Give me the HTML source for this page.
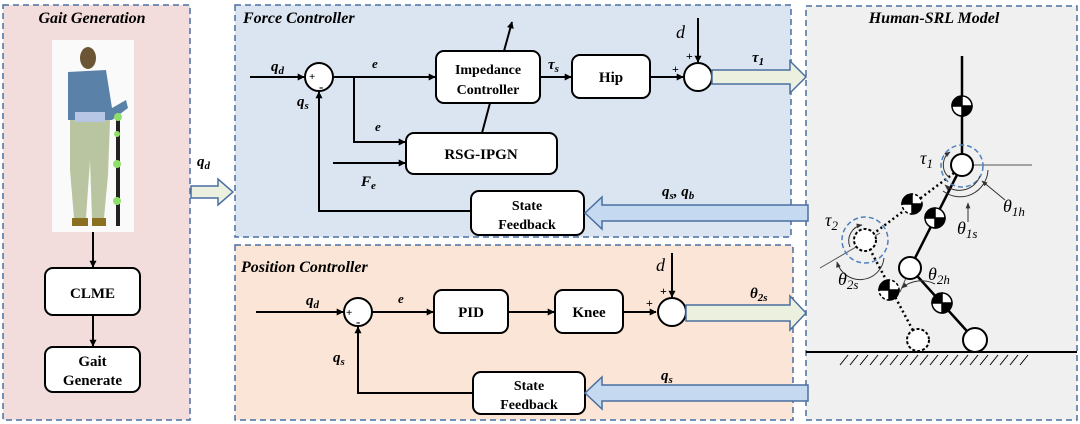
<!DOCTYPE html>
<html><head><meta charset="utf-8"><style>
html,body{margin:0;padding:0;background:#fff}
svg{display:block}
text{font-family:"Liberation Serif",serif;font-weight:bold}
.it{font-style:italic}
.m{font-style:italic;font-weight:normal}
</style></head><body>
<svg width="1080" height="424" viewBox="0 0 1080 424" xmlns="http://www.w3.org/2000/svg">
<defs>
<marker id="a" viewBox="0 0 10 10" refX="9" refY="5" markerWidth="7" markerHeight="7" orient="auto" markerUnits="userSpaceOnUse"><path d="M0,0 L10,5 L0,10 z" fill="#000"/></marker>
<marker id="s" viewBox="0 0 10 10" refX="9" refY="5" markerWidth="6" markerHeight="6" orient="auto" markerUnits="userSpaceOnUse"><path d="M0,1 L10,5 L0,9 z" fill="#333"/></marker>
</defs>
<rect x="3" y="5" width="187" height="415" fill="#f2dcdc" stroke="#4a6fa0" stroke-width="1.5" stroke-dasharray="6,4"/>
<rect x="235" y="5" width="556" height="232" fill="#dbe5f1" stroke="#4a6fa0" stroke-width="1.5" stroke-dasharray="6,4"/>
<rect x="235" y="245" width="558" height="175" fill="#fbe5d6" stroke="#4a6fa0" stroke-width="1.5" stroke-dasharray="6,4"/>
<rect x="806" y="6" width="271" height="414" fill="#f0f0f0" stroke="#4a6fa0" stroke-width="1.5" stroke-dasharray="6,4"/>

<text x="92" y="23" font-size="16" text-anchor="middle" class="it">Gait Generation</text>
<text x="243" y="23" font-size="16" class="it">Force Controller</text>
<text x="241" y="272" font-size="16" class="it">Position Controller</text>
<text x="934" y="23" font-size="16" text-anchor="middle" class="it">Human-SRL Model</text>

<rect x="52" y="40" width="82" height="192" fill="#fafafa"/>
<path d="M70,120 L110,120 L108,175 L104,218 L92,218 L90,160 L86,218 L74,218 L70,170 Z" fill="#b9c4a0"/>
<path d="M68,72 L106,70 L112,108 L126,100 L128,108 L112,120 L68,120 Z" fill="#5a82a8"/>
<rect x="75" y="112" width="30" height="10" fill="#b8c6e6"/>
<ellipse cx="88" cy="58" rx="8" ry="11" fill="#6b5535"/>
<rect x="72" y="218" width="16" height="8" fill="#8a7020"/><rect x="92" y="218" width="14" height="8" fill="#8a7020"/>
<rect x="116" y="115" width="4" height="111" fill="#222"/>
<circle cx="118" cy="117" r="4" fill="#8ee06a"/><circle cx="117" cy="134" r="3" fill="#8ee06a"/><circle cx="117" cy="164" r="4" fill="#8ee06a"/><circle cx="117" cy="201" r="4" fill="#8ee06a"/>

<g stroke="#000" stroke-width="2" fill="none">
<line x1="93" y1="232" x2="93" y2="267" marker-end="url(#a)"/>
<line x1="93" y1="315" x2="93" y2="346" marker-end="url(#a)"/>
</g>
<rect x="45" y="268" width="95" height="47" rx="8" fill="#fff" stroke="#000" stroke-width="2"/>
<text x="92.5" y="298" font-size="15" text-anchor="middle">CLME</text>
<rect x="45" y="347" width="95" height="45" rx="8" fill="#fff" stroke="#000" stroke-width="2"/>
<text x="92.5" y="366" font-size="15" text-anchor="middle">Gait</text>
<text x="92.5" y="385" font-size="15" text-anchor="middle">Generate</text>

<path d="M191,186 L218,186 L218,179 L233,192 L218,205 L218,198 L191,198 Z" fill="#ebf1de" stroke="#4a6fa0" stroke-width="1.5"/>
<text x="197" y="166" font-size="15" class="it">q<tspan font-size="11" dy="3">d</tspan></text>

<g stroke="#000" stroke-width="2" fill="none">
<line x1="250" y1="77" x2="304" y2="77" marker-end="url(#a)"/>
<line x1="333" y1="77" x2="435" y2="77" marker-end="url(#a)"/>
<polyline points="354,77 354,142 405,142" marker-end="url(#a)"/>
<line x1="333" y1="163" x2="405" y2="163" marker-end="url(#a)"/>
<line x1="504" y1="51" x2="512" y2="22" marker-end="url(#a)"/>
<line x1="490" y1="103" x2="482" y2="133"/>
<line x1="540" y1="77" x2="571" y2="77" marker-end="url(#a)"/>
<line x1="650" y1="77" x2="683" y2="77" marker-end="url(#a)"/>
<line x1="698" y1="18" x2="698" y2="62" marker-end="url(#a)"/>
<polyline points="471,211 319,211 319,92" marker-end="url(#a)"/>
</g>
<circle cx="319" cy="77" r="14" fill="#fff" stroke="#000" stroke-width="2"/>
<text x="309" y="80" font-size="11">+</text><text x="319" y="91" font-size="13">-</text>
<circle cx="698" cy="77" r="14" fill="#fff" stroke="#000" stroke-width="2"/>
<text x="672" y="73" font-size="12">+</text><text x="686" y="60" font-size="12">+</text>
<rect x="436" y="51" width="104" height="52" rx="8" fill="#fff" stroke="#000" stroke-width="2"/>
<text x="488" y="74" font-size="14" text-anchor="middle">Impedance</text>
<text x="488" y="94" font-size="14" text-anchor="middle">Controller</text>
<rect x="572" y="55" width="78" height="43" rx="8" fill="#fff" stroke="#000" stroke-width="2"/>
<text x="611" y="82" font-size="15" text-anchor="middle">Hip</text>
<rect x="406" y="133" width="151" height="41" rx="8" fill="#fff" stroke="#000" stroke-width="2"/>
<text x="481" y="159" font-size="15" text-anchor="middle">RSG-IPGN</text>
<rect x="471" y="191" width="113" height="44" rx="8" fill="#fff" stroke="#000" stroke-width="2"/>
<text x="527" y="210" font-size="14" text-anchor="middle">State</text>
<text x="527" y="229" font-size="14" text-anchor="middle">Feedback</text>
<text x="271" y="71" font-size="15" class="it">q<tspan font-size="11" dy="3">d</tspan></text>
<text x="297" y="106" font-size="15" class="it">q<tspan font-size="11" dy="3">s</tspan></text>
<text x="372" y="68" font-size="13" class="it">e</text>
<text x="375" y="131" font-size="13" class="it">e</text>
<text x="361" y="186" font-size="15" class="it">F<tspan font-size="11" dy="3">e</tspan></text>
<text x="548" y="69" font-size="15" class="it">τ<tspan font-size="11" dy="3">s</tspan></text>
<text x="676" y="38" font-size="18" class="m">d</text>
<text x="752" y="62" font-size="15" class="it">τ<tspan font-size="11" dy="3">1</tspan></text>
<text x="662" y="196" font-size="15" class="it">q<tspan font-size="11" dy="3">s</tspan><tspan dy="-3">, q</tspan><tspan font-size="11" dy="3">b</tspan></text>
<path d="M712,70 L790,70 L790,61 L806,77 L790,93 L790,84 L712,84 Z" fill="#ebf1de" stroke="#4a6fa0" stroke-width="1.5"/>
<path d="M808,205 L602,205 L602,197 L585,213 L602,229 L602,221 L808,221 Z" fill="#c5d9f1" stroke="#4a6fa0" stroke-width="1.5"/>

<g stroke="#000" stroke-width="2" fill="none">
<line x1="256" y1="312" x2="343" y2="312" marker-end="url(#a)"/>
<line x1="372" y1="312" x2="433" y2="312" marker-end="url(#a)"/>
<line x1="508" y1="312" x2="554" y2="312" marker-end="url(#a)"/>
<line x1="623" y1="312" x2="656" y2="312" marker-end="url(#a)"/>
<line x1="672" y1="253" x2="672" y2="297" marker-end="url(#a)"/>
<polyline points="473,393 358,393 358,327" marker-end="url(#a)"/>
</g>
<circle cx="358" cy="312" r="14" fill="#fff" stroke="#000" stroke-width="2"/>
<text x="346" y="316" font-size="11">+</text><text x="356" y="326" font-size="13">-</text>
<circle cx="672" cy="312" r="14" fill="#fff" stroke="#000" stroke-width="2"/>
<text x="646" y="307" font-size="12">+</text><text x="660" y="295" font-size="12">+</text>
<rect x="434" y="290" width="74" height="43" rx="8" fill="#fff" stroke="#000" stroke-width="2"/>
<text x="471" y="317" font-size="15" text-anchor="middle">PID</text>
<rect x="555" y="290" width="68" height="43" rx="8" fill="#fff" stroke="#000" stroke-width="2"/>
<text x="589" y="317" font-size="15" text-anchor="middle">Knee</text>
<rect x="473" y="372" width="112" height="42" rx="8" fill="#fff" stroke="#000" stroke-width="2"/>
<text x="529" y="390" font-size="14" text-anchor="middle">State</text>
<text x="529" y="409" font-size="14" text-anchor="middle">Feedback</text>
<text x="306" y="305" font-size="15" class="it">q<tspan font-size="11" dy="3">d</tspan></text>
<text x="333" y="362" font-size="15" class="it">q<tspan font-size="11" dy="3">s</tspan></text>
<text x="398" y="303" font-size="13" class="it">e</text>
<text x="656" y="271" font-size="18" class="m">d</text>
<text x="750" y="298" font-size="15" class="it">θ<tspan font-size="11" dy="3">2s</tspan></text>
<text x="661" y="380" font-size="15" class="it">q<tspan font-size="11" dy="3">s</tspan></text>
<path d="M686,305 L790,305 L790,296 L806,313 L790,330 L790,321 L686,321 Z" fill="#ebf1de" stroke="#4a6fa0" stroke-width="1.5"/>
<path d="M808,385 L602,385 L602,377 L585,393 L602,409 L602,401 L808,401 Z" fill="#c5d9f1" stroke="#4a6fa0" stroke-width="1.5"/>

<line x1="806" y1="352" x2="1077" y2="352" stroke="#000" stroke-width="2"/>
<g stroke="#000" stroke-width="1">
<path d="M840,365 L848,355 M850,365 L858,355 M860,365 L868,355 M870,365 L878,355 M880,365 L888,355 M890,365 L898,355 M900,365 L908,355 M910,365 L918,355 M920,365 L928,355 M930,365 L938,355 M940,365 L948,355 M950,365 L958,355 M960,365 L968,355 M970,365 L978,355 M980,365 L988,355 M990,365 L998,355 M1000,365 L1008,355 M1010,365 L1018,355 M1020,365 L1028,355"/>
</g>
<g stroke="#000" stroke-width="2.5" fill="none">
<line x1="962" y1="56" x2="962" y2="165"/>
<line x1="962" y1="165" x2="910" y2="268"/>
<line x1="910" y1="268" x2="975" y2="340"/>
</g>
<g stroke="#000" stroke-width="2.5" fill="none" stroke-dasharray="2,3">
<line x1="958" y1="170" x2="865" y2="240"/>
<line x1="865" y1="240" x2="918" y2="340"/>
</g>
<line x1="973" y1="165" x2="1032" y2="165" stroke="#555" stroke-width="1"/>
<line x1="820" y1="268" x2="880" y2="233" stroke="#555" stroke-width="1"/>
<line x1="906" y1="278" x2="900" y2="292" stroke="#555" stroke-width="1"/>
<circle cx="962" cy="166" r="21" fill="none" stroke="#4f81bd" stroke-width="1.5" stroke-dasharray="5,3"/>
<circle cx="865" cy="240" r="23" fill="none" stroke="#4f81bd" stroke-width="1.5" stroke-dasharray="5,3"/>
<g fill="#fff" stroke="#000" stroke-width="2">
<circle cx="962" cy="165" r="11"/>
<circle cx="910" cy="268" r="11"/>
<circle cx="975" cy="340" r="12"/>
</g>
<g fill="#fff" stroke="#000" stroke-width="2" stroke-dasharray="3,2">
<circle cx="865" cy="240" r="11"/>
<circle cx="918" cy="340" r="11"/>
</g>
<g stroke="#000" stroke-width="1.5">
<g transform="translate(962,106)"><circle r="10" fill="#fff"/><path d="M0,0 L10,0 A10,10 0 0 1 0,10 Z M0,0 L-10,0 A10,10 0 0 1 0,-10 Z" fill="#000"/></g>
<g transform="translate(935,218)"><circle r="10" fill="#fff"/><path d="M0,0 L10,0 A10,10 0 0 1 0,10 Z M0,0 L-10,0 A10,10 0 0 1 0,-10 Z" fill="#000"/></g>
<g transform="translate(942,303)"><circle r="10" fill="#fff"/><path d="M0,0 L10,0 A10,10 0 0 1 0,10 Z M0,0 L-10,0 A10,10 0 0 1 0,-10 Z" fill="#000"/></g>
<g transform="translate(912,204)"><circle r="10" fill="#fff" stroke-dasharray="3,2"/><path d="M0,0 L10,0 A10,10 0 0 1 0,10 Z M0,0 L-10,0 A10,10 0 0 1 0,-10 Z" fill="#000"/></g>
<g transform="translate(889,290)"><circle r="10" fill="#fff" stroke-dasharray="3,2"/><path d="M0,0 L10,0 A10,10 0 0 1 0,10 Z M0,0 L-10,0 A10,10 0 0 1 0,-10 Z" fill="#000"/></g>
</g>
<g stroke="#333" stroke-width="1" fill="none">
<path d="M950,178 A16,16 0 0 1 950,152" marker-end="url(#s)"/>
<path d="M980,176 A22,22 0 0 1 945,185" marker-end="url(#s)"/>
<path d="M988,170 A28,28 0 0 1 943,191" />
<path d="M1005,200 L982,181" marker-end="url(#s)"/>
<path d="M968,222 L968,203" marker-end="url(#s)"/>
<path d="M850,247 A16,16 0 0 1 862,225" marker-end="url(#s)"/>
<path d="M884,258 A24,24 0 0 1 837,262" marker-end="url(#s)"/>
<path d="M935,284 A30,30 0 0 0 902,288" marker-end="url(#s)"/>
</g>
<text x="920" y="164" font-size="18" class="m">τ<tspan font-size="13" dy="4">1</tspan></text>
<text x="1003" y="212" font-size="18" class="m">θ<tspan font-size="13" dy="4">1h</tspan></text>
<text x="957" y="234" font-size="18" class="m">θ<tspan font-size="13" dy="4">1s</tspan></text>
<text x="825" y="226" font-size="18" class="m">τ<tspan font-size="13" dy="4">2</tspan></text>
<text x="838" y="285" font-size="18" class="m">θ<tspan font-size="13" dy="4">2s</tspan></text>
<text x="928" y="280" font-size="18" class="m">θ<tspan font-size="13" dy="4">2h</tspan></text>
</svg>
</body></html>
